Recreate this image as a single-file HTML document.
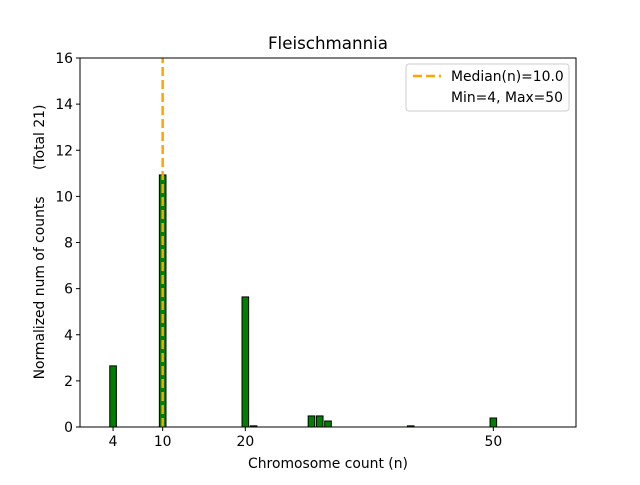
<!DOCTYPE html>
<html><head><meta charset="utf-8"><style>
body{margin:0;background:#fff;font-family:"Liberation Sans","DejaVu Sans",sans-serif}
svg text{font-family:"DejaVu Sans","Liberation Sans",sans-serif}
</style></head><body>
<svg id="c" width="640" height="480" xmlns="http://www.w3.org/2000/svg">
<rect width="640" height="480" fill="#fff"/>
<text x="328" y="49" text-anchor="middle" font-size="16.7">Fleischmannia</text>
<g id="bars"></g>
<line id="med" stroke="#FFA500" stroke-width="2.5" stroke-dasharray="9,4"/>
<rect x="80" y="58" width="496" height="369" fill="none" stroke="#000" stroke-width="1"/>
<g id="xt" font-size="13.9"></g>
<g id="yt" font-size="13.9"></g>
<text x="328" y="468" text-anchor="middle" font-size="13.9">Chromosome count (n)</text>
<text transform="translate(44,242) rotate(-90)" text-anchor="middle" font-size="13.9" xml:space="preserve">Normalized num of counts      (Total 21)</text>
<g>
<rect x="406" y="64" width="163" height="47" rx="3" fill="#fff" stroke="#ccc"/>
<line x1="413" y1="76" x2="441" y2="76" stroke="#FFA500" stroke-width="2.5" stroke-dasharray="9,4"/>
<text x="451" y="81" font-size="13.9">Median(n)=10.0</text>
<text x="451" y="102" font-size="13.9">Min=4, Max=50</text>
</g>
</svg>
<script>
const categories=[4,10,20,21,28,29,30,40,50];
const values=[2.65,10.93,5.64,0.05,0.48,0.48,0.26,0.05,0.39];
const xTicks=[4,10,20,50];
const yTicks=[0,2,4,6,8,10,12,14,16];
const median=10;
const X0=80,X1=576,Y0=427,Y1=58,xmax=60,ymax=16;
const sx=v=>X0+v*(X1-X0)/xmax, sy=v=>Y0-v*(Y0-Y1)/ymax;
const NS="http://www.w3.org/2000/svg";
const bars=document.getElementById('bars');
categories.forEach((c,i)=>{
 const r=document.createElementNS(NS,'rect');
 const w=sx(0.8)-sx(0);
 r.setAttribute('x',sx(c)-w/2);r.setAttribute('y',sy(values[i]));
 r.setAttribute('width',w);r.setAttribute('height',sy(0)-sy(values[i]));
 r.setAttribute('fill','#008000');r.setAttribute('stroke','#000');r.setAttribute('stroke-width','1');
 
 
 bars.appendChild(r);
});
const m=document.getElementById('med');
m.setAttribute('x1',sx(median));m.setAttribute('x2',sx(median));
m.setAttribute('y1',Y0);m.setAttribute('y2',Y1);
const xt=document.getElementById('xt');
xTicks.forEach(t=>{
 const l=document.createElementNS(NS,'line');
 l.setAttribute('x1',sx(t));l.setAttribute('x2',sx(t));l.setAttribute('y1',Y0);l.setAttribute('y2',Y0+4);l.setAttribute('stroke','#000');
 
 
 xt.appendChild(l);
 const s=document.createElementNS(NS,'text');
 s.setAttribute('x',sx(t));s.setAttribute('y',Y0+19);s.setAttribute('text-anchor','middle');s.textContent=t;
 
 
 xt.appendChild(s);
});
const yt=document.getElementById('yt');
yTicks.forEach(t=>{
 const l=document.createElementNS(NS,'line');
 l.setAttribute('x1',X0-4);l.setAttribute('x2',X0);l.setAttribute('y1',sy(t));l.setAttribute('y2',sy(t));l.setAttribute('stroke','#000');
 
 
 yt.appendChild(l);
 const s=document.createElementNS(NS,'text');
 s.setAttribute('x',X0-7);s.setAttribute('y',sy(t)+5);s.setAttribute('text-anchor','end');s.textContent=t;
 
 
 yt.appendChild(s);
});
</script>
</body></html>
